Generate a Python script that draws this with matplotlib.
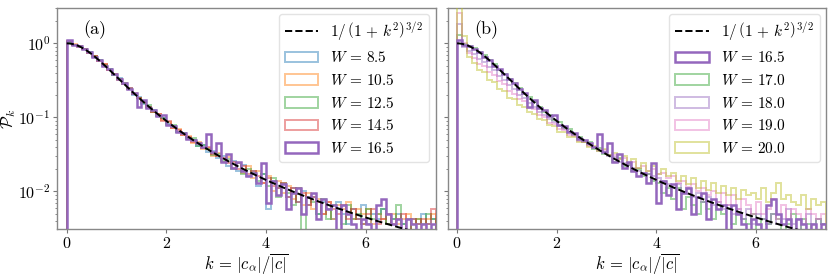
import numpy as np
import matplotlib
matplotlib.use("Agg")
import matplotlib.pyplot as plt

plt.rcParams['font.family'] = 'serif'
plt.rcParams['font.serif'] = ['cmr10', 'DejaVu Serif']
plt.rcParams['mathtext.fontset'] = 'cm'
plt.rcParams['axes.formatter.use_mathtext'] = True

# bin edges of the histograms (width 0.1)
edges = np.round(np.arange(0, 7.45, 0.1), 2)

# panel (a)
labels_a = ['8.5', '10.5', '12.5', '14.5', '16.5']
p_85 = [1.04, 0.95, 0.93, 0.83, 0.77, 0.66, 0.60, 0.50, 0.45, 0.37, 0.34, 0.28, 0.25, 0.20, 0.19, 0.15, 0.14, 0.125, 0.104, 0.098,
        0.082, 0.077, 0.064, 0.062, 0.052, 0.050, 0.041, 0.043, 0.034, 0.035, 0.028, 0.030, 0.022, 0.026, 0.019, 0.023, 0.016, 0.019, 0.012, 0.017,
        0.0058, 0.014, 0.011, 0.0125, 0.0085, 0.011, 0.0072, 0.010, 0.0065, 0.0085, 0.0050, 0.0072, 0.0058, 0.0043, 0.0072, 0.0050, 0.0036, 0.0058, 0.0043, 0.0065,
        0.0036, 0.0050, 0.0043, 0.0058, 0.0036, 0.0043, 0.0050, 0.0036, 0.0029, 0.0043, 0.0036, 0.0050, 0.0036, 0.0043]
p_105 = [1.06, 0.97, 0.90, 0.85, 0.75, 0.68, 0.58, 0.52, 0.43, 0.39, 0.32, 0.29, 0.24, 0.215, 0.18, 0.165, 0.135, 0.12, 0.11, 0.092,
         0.086, 0.072, 0.070, 0.057, 0.056, 0.045, 0.047, 0.037, 0.039, 0.030, 0.033, 0.025, 0.029, 0.021, 0.024, 0.018, 0.022, 0.015, 0.019, 0.013,
         0.016, 0.010, 0.014, 0.0095, 0.012, 0.0080, 0.011, 0.0065, 0.0095, 0.0058, 0.0080, 0.0050, 0.0072, 0.0043, 0.0065, 0.0058, 0.0072, 0.0043, 0.0058, 0.0050,
         0.0058, 0.0036, 0.0050, 0.0043, 0.0036, 0.0050, 0.0036, 0.0043, 0.0050, 0.0036, 0.0043, 0.0029, 0.0043, 0.0050]
p_125 = [1.05, 0.96, 0.92, 0.84, 0.76, 0.67, 0.59, 0.51, 0.45, 0.37, 0.33, 0.29, 0.24, 0.205, 0.185, 0.155, 0.145, 0.118, 0.105, 0.097,
         0.080, 0.079, 0.063, 0.062, 0.051, 0.052, 0.041, 0.042, 0.037, 0.031, 0.032, 0.026, 0.027, 0.020, 0.024, 0.017, 0.020, 0.018, 0.014, 0.017,
         0.012, 0.015, 0.0085, 0.013, 0.0095, 0.0065, 0.0110, 0.0029, 0.0085, 0.0072, 0.0050, 0.0080, 0.0043, 0.0065, 0.0058, 0.0036, 0.0065, 0.0043, 0.0050, 0.0036,
         0.0058, 0.0043, 0.0050, 0.0058, 0.0036, 0.0043, 0.0065, 0.0036, 0.0043, 0.0029, 0.0043, 0.0036, 0.0050, 0.0043]
p_145 = [1.07, 0.96, 0.91, 0.85, 0.75, 0.68, 0.58, 0.52, 0.44, 0.38, 0.33, 0.28, 0.25, 0.21, 0.18, 0.16, 0.14, 0.12, 0.112, 0.090,
         0.088, 0.073, 0.068, 0.058, 0.055, 0.047, 0.045, 0.038, 0.040, 0.032, 0.030, 0.028, 0.024, 0.025, 0.020, 0.022, 0.017, 0.019, 0.016, 0.013,
         0.015, 0.012, 0.0110, 0.013, 0.0085, 0.0110, 0.0072, 0.0095, 0.0065, 0.0085, 0.0072, 0.0050, 0.0072, 0.0058, 0.0050, 0.0065, 0.0043, 0.0058, 0.0043, 0.0036,
         0.0050, 0.0058, 0.0036, 0.0043, 0.0050, 0.0036, 0.0043, 0.0050, 0.0029, 0.0043, 0.0036, 0.0043, 0.0036, 0.0058]
p_165 = [1.10, 0.96, 0.92, 0.83, 0.77, 0.66, 0.60, 0.50, 0.45, 0.38, 0.33, 0.29, 0.24, 0.215, 0.14, 0.17, 0.135, 0.125, 0.105, 0.107,
         0.080, 0.076, 0.064, 0.062, 0.051, 0.050, 0.045, 0.040, 0.060, 0.034, 0.045, 0.025, 0.032, 0.021, 0.025, 0.019, 0.016, 0.018, 0.013, 0.024,
         0.0069, 0.014, 0.009, 0.0125, 0.0058, 0.0095, 0.0110, 0.0050, 0.0085, 0.0095, 0.0043, 0.0080, 0.0058, 0.0065, 0.0029, 0.0065, 0.0050, 0.0036, 0.0029, 0.0043,
         0.0036, 0.0029, 0.0065, 0.0080, 0.0050, 0.0036, 0.0043, 0.0029, 0.0043, 0.0036, 0.0029, 0.0036, 0.0029, 0.0036]

# panel (b)
labels_b = ['16.5', '17.0', '18.0', '19.0', '20.0']
p_170 = [1.30, 0.98, 0.93, 0.86, 0.76, 0.69, 0.59, 0.53, 0.44, 0.39, 0.33, 0.29, 0.25, 0.21, 0.19, 0.16, 0.14, 0.12, 0.108, 0.092,
         0.087, 0.072, 0.069, 0.057, 0.055, 0.046, 0.046, 0.037, 0.038, 0.032, 0.031, 0.025, 0.028, 0.022, 0.023, 0.019, 0.020, 0.016, 0.017, 0.014,
         0.013, 0.0095, 0.011, 0.0080, 0.0110, 0.0058, 0.0085, 0.0065, 0.0050, 0.0072, 0.0058, 0.0043, 0.0065, 0.0050, 0.0058, 0.0036, 0.0050, 0.0043, 0.0036, 0.0050,
         0.0029, 0.0043, 0.0036, 0.0050, 0.0043, 0.0029, 0.0036, 0.0050, 0.0029, 0.0043, 0.0036, 0.0029, 0.0043, 0.0036]
p_180 = [1.80, 0.90, 0.80, 0.71, 0.62, 0.56, 0.48, 0.43, 0.36, 0.32, 0.27, 0.24, 0.20, 0.18, 0.155, 0.140, 0.118, 0.108, 0.094, 0.086,
         0.077, 0.070, 0.063, 0.057, 0.052, 0.047, 0.043, 0.040, 0.035, 0.034, 0.030, 0.029, 0.025, 0.024, 0.023, 0.021, 0.019, 0.018, 0.017, 0.016,
         0.015, 0.014, 0.0125, 0.0110, 0.0125, 0.0095, 0.0110, 0.0085, 0.0095, 0.0072, 0.0085, 0.0065, 0.0072, 0.0058, 0.0065, 0.0050, 0.0058, 0.0043, 0.0058, 0.0036,
         0.0050, 0.0043, 0.0036, 0.0050, 0.0036, 0.0043, 0.0058, 0.0036, 0.0043, 0.0029, 0.0050, 0.0036, 0.0043, 0.0036]
p_190 = [2.60, 1.00, 0.74, 0.64, 0.53, 0.49, 0.41, 0.37, 0.31, 0.28, 0.23, 0.21, 0.175, 0.165, 0.135, 0.128, 0.108, 0.100, 0.085, 0.081,
         0.070, 0.067, 0.058, 0.056, 0.048, 0.047, 0.041, 0.040, 0.036, 0.036, 0.031, 0.031, 0.027, 0.028, 0.024, 0.025, 0.021, 0.022, 0.019, 0.020,
         0.017, 0.018, 0.015, 0.016, 0.0130, 0.0140, 0.0115, 0.0125, 0.0100, 0.0110, 0.0090, 0.0100, 0.0072, 0.0095, 0.0065, 0.0090, 0.0058, 0.0080, 0.0065, 0.0050,
         0.0072, 0.0050, 0.0058, 0.0080, 0.0043, 0.0065, 0.0043, 0.0058, 0.0050, 0.0036, 0.0058, 0.0050, 0.0043, 0.0050]
p_200 = [4.00, 1.25, 0.66, 0.55, 0.44, 0.41, 0.32, 0.30, 0.24, 0.23, 0.185, 0.175, 0.145, 0.14, 0.118, 0.112, 0.094, 0.091, 0.078, 0.076,
         0.064, 0.063, 0.054, 0.054, 0.046, 0.047, 0.040, 0.041, 0.035, 0.037, 0.031, 0.033, 0.027, 0.030, 0.024, 0.027, 0.021, 0.024, 0.019, 0.022,
         0.017, 0.020, 0.016, 0.018, 0.0140, 0.016, 0.0125, 0.015, 0.0110, 0.014, 0.0105, 0.013, 0.0095, 0.012, 0.0090, 0.011, 0.0080, 0.0105, 0.0090, 0.0095,
         0.0080, 0.0110, 0.0072, 0.0095, 0.0130, 0.0080, 0.0090, 0.0072, 0.0065, 0.0090, 0.0058, 0.0080, 0.0065, 0.0072]

series_a = [p_85, p_105, p_125, p_145, p_165]
colors_a = ['tab:blue', 'tab:orange', 'tab:green', 'tab:red', 'tab:purple']
series_b = [p_165, p_170, p_180, p_190, p_200]
colors_b = ['tab:purple', 'tab:green', 'tab:purple', 'tab:pink', 'tab:olive']

fig, axes = plt.subplots(1, 2, figsize=(8.3, 2.77), dpi=100, sharey=True)
fig.subplots_adjust(left=0.069, right=0.995, bottom=0.173, top=0.971, wspace=0.032)

k = np.linspace(0, 7.5, 400)
curve = 1 / (1 + k**2)**1.5

for ax, series, colors, labels, tag in [(axes[0], series_a, colors_a, labels_a, '(a)'),
                                        (axes[1], series_b, colors_b, labels_b, '(b)')]:
    ax.plot(k, curve, 'k--', lw=1.4, zorder=5,
            label=r'$1/\,\left(1\,+\,k^2\right)^{3/2}$')
    for vals, c, lab in zip(series, colors, labels):
        if lab == '16.5':
            ax.hist(edges[:-1], bins=edges, weights=vals, histtype='step', color=c,
                    lw=1.8, zorder=4, label=r'$W\,=\,%s$' % lab)
        else:
            ax.hist(edges[:-1], bins=edges, weights=vals, histtype='step', color=c,
                    lw=1.4, alpha=0.45, zorder=3, label=r'$W\,=\,%s$' % lab)
    ax.set_yscale('log')
    ax.set_xlim(-0.19, 7.4)
    ax.set_ylim(0.0031, 3.0)
    ax.set_xticks([0, 2, 4, 6])
    ax.set_xlabel(r'$k\,=\,|c_\alpha|/\overline{|c|}$', fontsize=12, labelpad=0.5)
    ax.tick_params(colors='#777777', labelcolor='black', labelsize=11.5, length=3, width=0.8, pad=2)
    ax.tick_params(which='minor', colors='#777777', length=1.5, width=0.6)
    for s in ax.spines.values():
        s.set_color('#888888')
        s.set_linewidth(1.0)
    ax.text(0.07, 0.90, tag, transform=ax.transAxes, fontsize=13, va='center')
    ax.legend(loc='upper right', fontsize=11, handlelength=2.2, framealpha=0.8,
              edgecolor='#dddddd', borderaxespad=0.4)

axes[0].set_ylabel(r'$\mathcal{P}_k$', fontsize=12)
axes[0].yaxis.set_label_coords(-0.105, 0.5)

fig.savefig('out.png', dpi=100)
